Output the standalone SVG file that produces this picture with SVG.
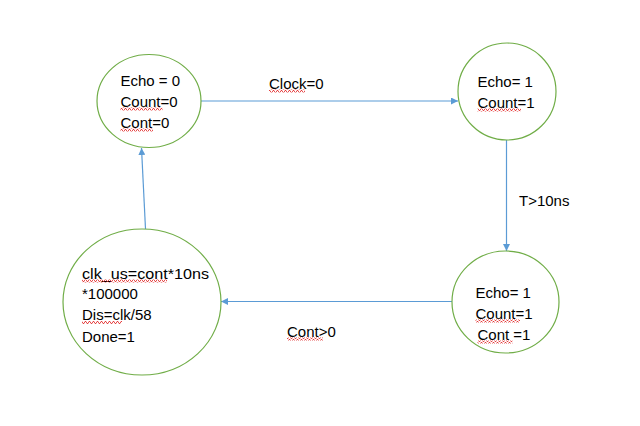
<svg xmlns="http://www.w3.org/2000/svg" width="640" height="426" viewBox="0 0 640 426">
<style>
.st{fill:#fff;stroke:#70AD47;stroke-width:1.2}
.t{font-family:"Liberation Sans",Arial,sans-serif;font-size:15px;fill:#000}
.c{stroke:#5B9BD5;stroke-width:1.2;fill:none}
</style>
<defs>
<marker id="ah" viewBox="0 0 10 10" refX="10" refY="5" markerWidth="7" markerHeight="7" markerUnits="userSpaceOnUse" orient="auto">
<path d="M0,0 L10,5 L0,10 z" fill="#5B9BD5"/>
</marker>
<pattern id="sq" x="0" y="0" width="4" height="3" patternUnits="userSpaceOnUse">
<path d="M0,2.5 L1,0.5 L2,0.5 L3,2.5 L4,2.5" fill="none" stroke="#E02020" stroke-width="0.8"/>
</pattern>
</defs>
<rect width="640" height="426" fill="#fff"/>
<g id="connectors">
<line class="c" x1="201" y1="101" x2="458" y2="101" marker-end="url(#ah)"/>
<line class="c" x1="506.5" y1="140" x2="506.5" y2="251" marker-end="url(#ah)"/>
<line class="c" x1="452" y1="301.5" x2="221" y2="301.5" marker-end="url(#ah)"/>
<line class="c" x1="145.5" y1="229" x2="141.5" y2="148" marker-end="url(#ah)"/>
<text class="t" x="269" y="88.5">Clock=0</text>
<rect x="269" y="89.5" width="36" height="3" fill="url(#sq)"/>
<text class="t" x="519" y="206">T&gt;10ns</text>
<text class="t" x="287" y="336.5">Cont&gt;0</text>
<rect x="287" y="337.5" width="36" height="3" fill="url(#sq)"/>
</g>
<g id="s0">
<ellipse class="st" cx="149" cy="101" rx="52" ry="46.5"/>
<text class="t" x="120.5" y="85.5">Echo = 0</text>
<text class="t" x="120.5" y="106.5">Count=0</text>
<text class="t" x="120.5" y="127.5">Cont=0</text>
<rect x="120.5" y="107.5" width="42" height="3" fill="url(#sq)"/>
<rect x="120.5" y="128.5" width="32.5" height="3" fill="url(#sq)"/>
</g>
<g id="s1">
<ellipse class="st" cx="507" cy="91.5" rx="49" ry="48.5"/>
<text class="t" x="477.5" y="86.5">Echo= 1</text>
<text class="t" x="477.5" y="107.5">Count=1</text>
<rect x="477.5" y="108.5" width="43.5" height="3" fill="url(#sq)"/>
</g>
<g id="s2">
<ellipse class="st" cx="505.5" cy="302" rx="53.5" ry="51"/>
<text class="t" x="475.5" y="297.5">Echo= 1</text>
<text class="t" x="475.5" y="318.5">Count=1</text>
<text class="t" x="477.5" y="339.5">Cont =1</text>
<rect x="475.5" y="319.5" width="44.5" height="3" fill="url(#sq)"/>
<rect x="477.5" y="340.5" width="35" height="3" fill="url(#sq)"/>
</g>
<g id="s3">
<ellipse class="st" cx="142" cy="302" rx="79" ry="73"/>
<text class="t" x="82" y="278.5" textLength="127" lengthAdjust="spacingAndGlyphs">clk_us=cont*10ns</text>
<text class="t" x="82" y="299">*100000</text>
<text class="t" x="82" y="320">Dis=clk/58</text>
<text class="t" x="82" y="342">Done=1</text>
<rect x="82" y="279.5" width="85" height="3" fill="url(#sq)"/>
<rect x="82" y="321" width="40" height="3" fill="url(#sq)"/>
</g>
</svg>
